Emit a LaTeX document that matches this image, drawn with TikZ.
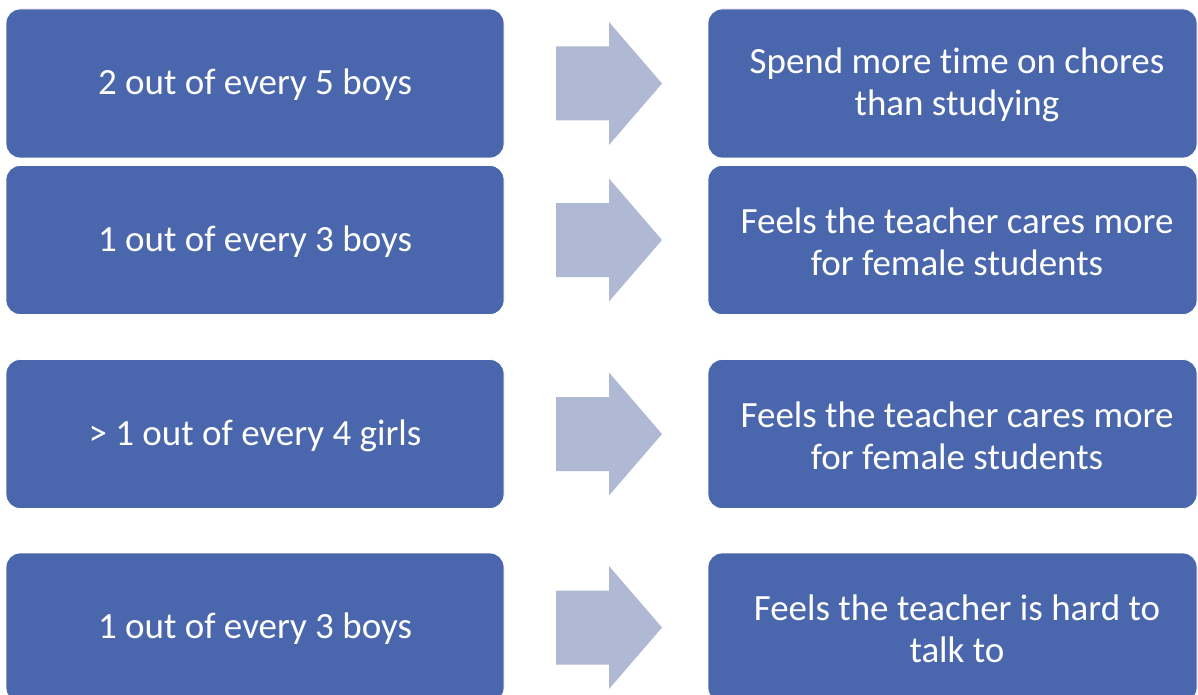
\documentclass[tikz,border=0pt]{standalone}
\usepackage{fontspec}
\setmainfont[Ligatures={NoCommon}]{Carlito}
\definecolor{boxblue}{HTML}{4A66AC}
\definecolor{arrowgray}{HTML}{B0B9D3}
\begin{document}
\begin{tikzpicture}[x=1pt,y=-1pt,
  box/.style={fill=boxblue, draw=white, line width=0.8pt, rounded corners=14pt,
    minimum height=149pt, inner sep=0pt},
  boxtext/.style={text=white, align=center, inner sep=0pt, font=\fontsize{37}{42}\selectfont},
  lbox/.style={box, minimum width=498pt},
  rbox/.style={box, minimum width=489pt},
  bigarrow/.style={fill=arrowgray, draw=none}]
\useasboundingbox (0,0) rectangle (1198,695);
\foreach \n/\y in {1/83.5,2/240,3/434,4/627.5}{
  \node[lbox] (l\n) at (255,\y) {};
  \node[rbox] (r\n) at (952.5,\y) {};
}
\node[boxtext] (t1) at ([yshift=-1.5pt]l1.center) {2 out of every 5 boys};
\node[boxtext] (u1) at ([xshift=4.5pt,yshift=-1.5pt]r1.center) {Spend more time on chores\\than studying};
\node[boxtext] (t2) at ([yshift=-1.5pt]l2.center) {1 out of every 3 boys};
\node[boxtext] (u2) at ([xshift=4.5pt,yshift=-1.5pt]r2.center) {Feels the teacher cares more\\for female students};
\node[boxtext] (t3) at ([yshift=-1.5pt]l3.center) {> 1 out of every 4 girls};
\node[boxtext] (u3) at ([xshift=4.5pt,yshift=-1.5pt]r3.center) {Feels the teacher cares more\\for female students};
\node[boxtext] (t4) at ([yshift=-1.5pt]l4.center) {1 out of every 3 boys};
\node[boxtext] (u4) at ([xshift=4.5pt,yshift=-1.5pt]r4.center) {Feels the teacher is hard to\\talk to};
\foreach \y in {83.5,240,434,627.5}{
  \fill[bigarrow] (556,\y-37) -- (609,\y-37) -- (609,\y-61.5) -- (662,\y) -- (609,\y+61.5) -- (609,\y+37) -- (556,\y+37) -- cycle;
}
\end{tikzpicture}
\end{document}
